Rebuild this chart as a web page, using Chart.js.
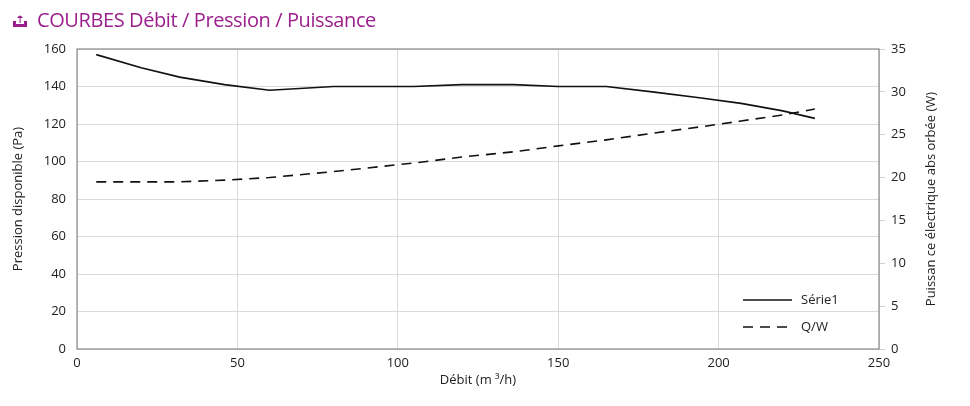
<!DOCTYPE html>
<html lang="fr">
<head>
<meta charset="UTF-8">
<title>Courbes</title>
<script src="https://cdn.jsdelivr.net/npm/chart.js"></script>
<style>
  html, body { margin: 0; padding: 0; background: #fff; }
  #wrap { position: relative; width: 970px; height: 406px; overflow: hidden; }
  #title {
    position: absolute; left: 12px; top: 6px;
    font-family: "Open Sans", sans-serif; font-size: 20px; color: #9c1f8c;
    letter-spacing: -0.4px;
    display: flex; align-items: center; gap: 9px; white-space: nowrap;
  }
  #chart { position: absolute; left: 0; top: 0; }
</style>
</head>
<body>
<div id="wrap">
  <canvas id="chart" width="970" height="406"></canvas>
  <div id="title">
    <svg width="16" height="16" viewBox="0 0 16 16">
      <path d="M1 9 h3 v3 h8 v-3 h3 v6 h-14 z" fill="#9c1f8c"/>
      <path d="M5 6 q3 -5 6 0 z" fill="#9c1f8c"/>
      <rect x="7.6" y="5" width="1" height="6" fill="#9c1f8c"/>
    </svg>
    <span>COURBES Débit / Pression / Puissance</span>
  </div>
</div>

<script>
  // valeurs
  var debit = [6, 20, 32, 46, 60, 80, 105, 120, 136, 150, 165, 180, 194, 207, 220, 230];
  var pression = [157, 150, 145, 141, 138, 140, 140, 141, 141, 140, 140, 137, 134, 131, 127, 123];
  var puissance = [19.5, 19.5, 19.5, 19.7, 20, 20.7, 21.7, 22.4, 23, 23.7, 24.4, 25.2, 25.9, 26.6, 27.3, 28];

  var xTicks = [0, 50, 100, 150, 200, 250];
  var rightTitle = 'Puissan ce électrique abs orbée (W)';
  var font = { family: "Open Sans", size: 13 };

  function pts(ys) {
    return debit.map(function (d, i) { return { x: d, y: ys[i] }; });
  }

  // cadre, titre de droite et legende
  var framePlugin = {
    id: 'frame',
    afterDraw: function (chart) {
      var ctx = chart.ctx, a = chart.chartArea;
      ctx.save();
      ctx.strokeStyle = '#8a8a8a';
      ctx.lineWidth = 1.2;
      ctx.strokeRect(a.left, a.top, a.right - a.left, a.bottom - a.top);

      ctx.font = '13px "Open Sans"';
      ctx.fillStyle = '#222';
      ctx.textBaseline = 'middle';

      ctx.save();
      ctx.translate(931, (a.top + a.bottom) / 2);
      ctx.rotate(-Math.PI / 2);
      ctx.textAlign = 'center';
      ctx.fillText(rightTitle, 0, 0);
      ctx.restore();

      var lx = a.right - 136, ly = a.bottom - 49;
      chart.data.datasets.forEach(function (ds, i) {
        var y = ly + i * 27;
        ctx.beginPath();
        ctx.strokeStyle = ds.borderColor;
        ctx.lineWidth = ds.borderWidth;
        ctx.setLineDash(ds.borderDash || []);
        ctx.moveTo(lx, y);
        ctx.lineTo(lx + 49, y);
        ctx.stroke();
        ctx.setLineDash([]);
        ctx.fillText(ds.label, lx + 58, y);
      });
      ctx.restore();
    }
  };

  new Chart(document.getElementById('chart').getContext('2d'), {
    type: 'line',
    data: {
      datasets: [{
        label: 'Série1',
        data: pts(pression),
        yAxisID: 'y',
        borderColor: '#111',
        borderWidth: 1.6,
        pointRadius: 0,
        tension: 0,
        fill: false
      }, {
        label: 'Q/W',
        data: pts(puissance),
        yAxisID: 'y2',
        borderColor: '#111',
        borderWidth: 1.6,
        borderDash: [10, 7],
        pointRadius: 0,
        tension: 0,
        fill: false
      }]
    },
    options: {
      responsive: false,
      animation: false,
      layout: { padding: { top: 49, left: 6, right: 0, bottom: 14 } },
      plugins: { legend: { display: false }, tooltip: { enabled: false } },
      scales: {
        x: {
          type: 'linear', min: 0, max: 250,
          afterBuildTicks: function (s) { s.ticks = xTicks.map(function (v) { return { value: v }; }); },
          afterFit: function (s) { s.height = 43; },
          grid: { color: '#dadada', drawTicks: false },
          border: { display: false },
          ticks: { color: '#222', font: font, padding: 6, maxRotation: 0 },
          title: { display: true, text: 'Débit (m ³/h)', color: '#222', font: font, padding: { top: 4 } }
        },
        y: {
          position: 'left', min: 0, max: 160,
          afterFit: function (s) { s.width = 71; },
          grid: { color: '#dadada', drawTicks: false },
          border: { display: false },
          ticks: { stepSize: 20, color: '#222', font: font, padding: 11 },
          title: { display: true, text: 'Pression disponible (Pa)', color: '#222', font: font, padding: { bottom: 4 } }
        },
        y2: {
          position: 'right', min: 0, max: 35,
          afterFit: function (s) { s.width = 91; },
          grid: { drawOnChartArea: false, color: '#d0d0d0', tickLength: 6 },
          border: { display: false },
          ticks: { stepSize: 5, color: '#222', font: font, padding: 6 },
          title: { display: false }
        }
      }
    },
    plugins: [framePlugin]
  });
</script>
</body>
</html>
